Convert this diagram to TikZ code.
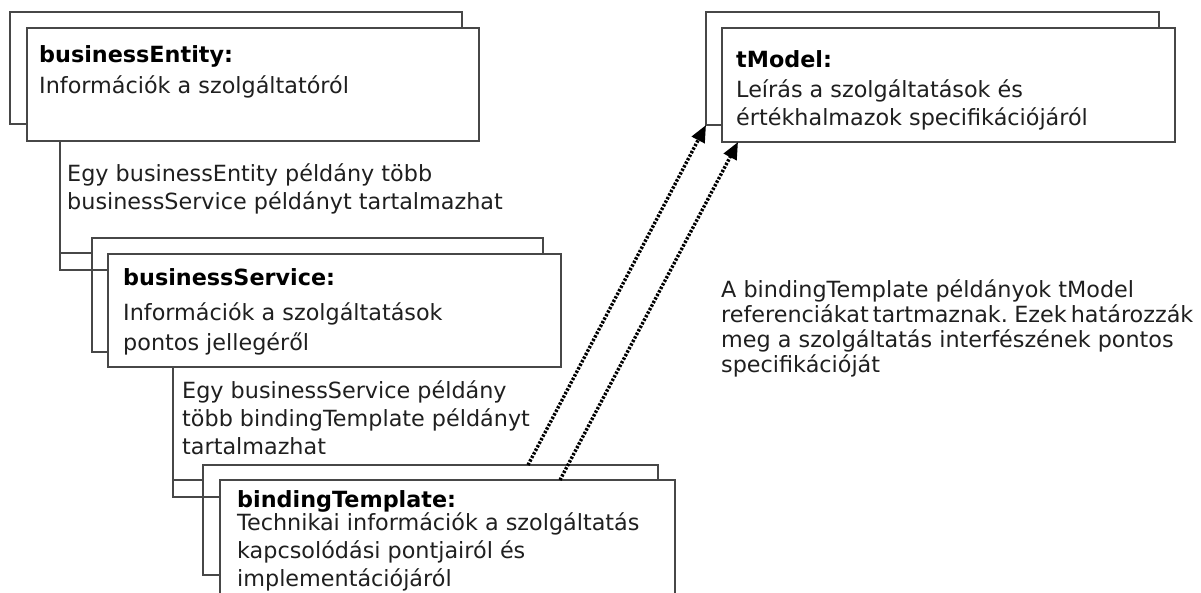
\documentclass[tikz,border=0pt]{standalone}
\usepackage{fontspec}
\setmainfont{DejaVu Sans}
\usetikzlibrary{arrows.meta,calc}
\begin{document}
\begin{tikzpicture}[x=1pt,y=-1pt,
  box/.style={draw=black!72, line width=2.4pt, fill=white, rectangle, inner sep=0pt, outer sep=0pt, anchor=north west},
  txt/.style={anchor=base west, inner sep=0pt, text=black!88, font=\fontsize{22.3}{26}\selectfont},
  hdr/.style={anchor=base west, inner sep=0pt, text=black, font=\fontsize{22.3}{26}\selectfont\bfseries},
  conn/.style={draw=black!72, line width=2.4pt},
  refarrow/.style={draw=black, line width=3.4pt, dash pattern=on 2.4pt off 1.6pt, -{Triangle[length=17pt,width=14pt]}}]
\useasboundingbox (0,0) rectangle (1201,592);
\clip (0,0) rectangle (1201,592);
% boxes
\node[box, minimum width=452pt, minimum height=112pt] (beback) at (10,12) {};
\node[box, minimum width=452pt, minimum height=113pt] (befront) at (27,28) {};
\node[box, minimum width=451pt, minimum height=114pt] (bsback) at (92,238) {};
\node[box, minimum width=453pt, minimum height=113pt] (bsfront) at (108,254) {};
\node[box, minimum width=455pt, minimum height=110pt] (btback) at (203,465) {};
\node[box, minimum width=455pt, minimum height=140pt] (btfront) at (220,480) {};
\node[box, minimum width=453pt, minimum height=113pt] (tmback) at (706,12) {};
\node[box, minimum width=453pt, minimum height=114pt] (tmfront) at (722,28) {};
% connectors
\coordinate (c1) at ($(befront.south west)+(33,0)$);
\coordinate (j1) at ($(bsback.north west)+(0,15)$);
\coordinate (j2) at ($(bsfront.north west)+(0,16)$);
\draw[conn] (c1) |- (j2);
\draw[conn] (c1 |- j1) -- (j1);
\coordinate (c2) at ($(bsfront.south west)+(65,0)$);
\coordinate (j3) at ($(btback.north west)+(0,15)$);
\coordinate (j4) at ($(btfront.north west)+(0,17)$);
\draw[conn] (c2) |- (j4);
\draw[conn] (c2 |- j3) -- (j3);
% reference arrows
\coordinate (a1) at ($(btback.north west)+(325,0)$);
\coordinate (a2) at ($(btfront.north west)+(340,0)$);
\coordinate (t2) at ($(tmfront.south west)+(16,0)$);
\draw[refarrow] (a1) -- (tmback.south west);
\draw[refarrow] (a2) -- (t2);
% texts
\node[hdr] (behdr) at (39,62) {businessEntity:};
\node[txt] (bel1) at (39,93) {Információk a szolgáltatóról};
\node[txt] (lab1a) at (67,181) {Egy businessEntity példány több};
\node[txt] (lab1b) at (67,209) {businessService példányt tartalmazhat};
\node[hdr] (bshdr) at (123,285) {businessService:};
\node[txt] (bsl1) at (123,320) {Információk a szolgáltatások};
\node[txt] (bsl2) at (123,350) {pontos jellegéről};
\node[txt] (lab2a) at (182,398) {Egy businessService példány};
\node[txt] (lab2b) at (182,426) {több bindingTemplate példányt};
\node[txt] (lab2c) at (182,454) {tartalmazhat};
\node[hdr] (bthdr) at (237,507) {bindingTemplate:};
\node[txt] (btl1) at (237,530) {Technikai információk a szolgáltatás};
\node[txt] (btl2) at (237,558) {kapcsolódási pontjairól és};
\node[txt] (btl3) at (237,586) {implementációjáról};
\node[hdr] (tmhdr) at (736,67) {tModel:};
\node[txt] (tml1) at (736,97) {Leírás a szolgáltatások és};
\node[txt] (tml2) at (736,125) {értékhalmazok specifikációjáról};
\node[txt] (r1) at (721,297) {A bindingTemplate példányok tModel};
\node[txt] (r2) at (721,322) {\spaceskip=0.18em referenciákat tartmaznak. Ezek határozzák};
\node[txt] (r3) at (721,347) {meg a szolgáltatás interfészének pontos};
\node[txt] (r4) at (721,372) {specifikációját};
\end{tikzpicture}
\end{document}
